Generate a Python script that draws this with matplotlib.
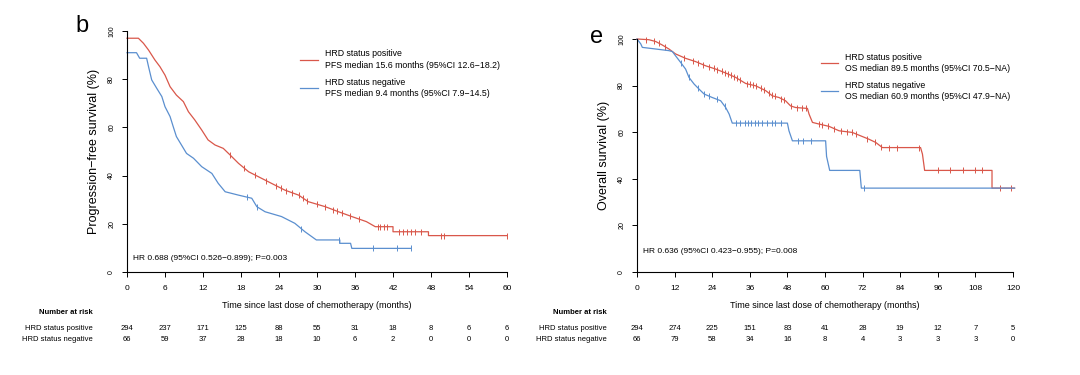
import numpy as np
import matplotlib
matplotlib.use("Agg")
import matplotlib.pyplot as plt

plt.rcParams['font.family'] = ['Liberation Sans', 'DejaVu Sans']

RED = '#d9574a'
BLUE = '#5b8fcf'

# ---- panel b: progression-free survival (curve vertices) ----
pfs_pos_t = [0, 1.8, 2.6, 3.4, 4.4, 5.2, 6.0, 6.8, 7.8, 8.9, 9.7, 10.7, 11.8, 12.8, 13.9,
             15.2, 16.3, 17.6, 19.2, 20.7, 22.8, 24.9, 27.1, 28.6, 31.3, 33.4, 35.5, 37.8,
             39.2, 42.0, 42.0, 47.6, 47.6, 60]
pfs_pos_s = [97.0, 97.0, 94.9, 92.1, 88.0, 85.2, 81.7, 76.9, 73.4, 70.7, 66.5, 63.1, 58.9,
             54.8, 52.7, 51.3, 48.5, 45.1, 41.6, 39.6, 36.8, 34.0, 31.9, 29.2, 27.1, 25.0,
             23.0, 20.9, 18.8, 18.8, 16.7, 16.7, 15.1, 15.1]
pfs_pos_cens = [16.2, 18.5, 20.2, 22.0, 23.5, 24.3, 25.1, 26.0, 27.1, 27.8, 28.4, 30.0, 31.2,
                32.6, 33.1, 34.0, 35.2, 36.6, 39.6, 40.0, 40.5, 41.0, 42.9, 43.6, 44.2, 44.9,
                45.5, 46.4, 49.6, 50.0, 60]

pfs_neg_t = [0, 1.5, 2.0, 3.1, 3.4, 3.9, 4.7, 5.5, 6.0, 6.8, 7.3, 7.8, 8.6, 9.4, 10.5, 11.8,
             13.4, 14.4, 15.5, 17.6, 19.7, 20.5, 21.8, 24.4, 26.5, 28.1, 29.9, 33.6, 33.6,
             35.3, 35.5, 44.8]
pfs_neg_s = [91.0, 91.0, 88.7, 88.7, 85.2, 79.7, 76.2, 72.8, 68.6, 64.5, 60.3, 56.2, 52.7,
             49.2, 47.2, 43.7, 40.9, 36.8, 33.3, 31.9, 30.6, 27.1, 25.0, 23.0, 20.2, 16.7,
             13.3, 13.3, 11.9, 11.9, 9.8, 9.8]
pfs_neg_cens = [19.0, 20.6, 27.5, 33.4, 38.8, 42.6, 44.8]

pfs_ticks = np.arange(0, 61, 6)
pfs_risk_pos = [294, 237, 171, 125, 88, 55, 31, 18, 8, 6, 6]
pfs_risk_neg = [66, 59, 37, 28, 18, 10, 6, 2, 0, 0, 0]

# ---- panel e: overall survival ----
os_pos_t = [0, 3.8, 6.0, 8.1, 10.2, 12.3, 15.5, 18.7, 21.9, 25.1, 28.3, 31.5, 34.7, 37.9,
            41.1, 43.2, 45.3, 47.4, 49.0, 50.6, 54.4, 54.9, 56.0, 58.1, 61.3, 64.5, 68.7,
            70.9, 74.0, 76.2, 78.3, 90.5, 91.1, 91.8, 113.3, 113.3, 120.5]
os_pos_s = [100, 99.7, 98.9, 97.4, 95.7, 93.6, 91.7, 90.3, 88.5, 87.1, 85.4, 83.5, 80.9,
            79.9, 77.8, 75.6, 74.9, 73.5, 71.3, 70.6, 70.2, 67.8, 64.2, 63.5, 62.5, 60.6,
            59.9, 58.7, 57.0, 55.6, 53.4, 53.4, 50.6, 43.6, 43.6, 36.0, 36.0]
os_pos_cens = [3, 5.5, 7, 9, 15, 18, 19.5, 21, 23, 24.5, 25.5, 27, 28, 29, 30, 31, 32, 33,
               35, 36, 37, 38, 39.5, 40.5, 42, 43, 44, 46, 47, 49, 51, 52.5, 54, 58, 59,
               61, 63, 65, 67, 68.5, 70, 73.5, 76, 78, 80.5, 83, 90, 96, 100, 104, 108,
               110, 116, 119.5]

os_neg_t = [0, 1.2, 1.7, 6.0, 10.2, 11.3, 12.3, 13.9, 15.5, 16.6, 18.2, 19.8, 21.4, 24.0,
            26.7, 28.3, 29.4, 30.4, 48.0, 48.5, 49.6, 60.2, 60.5, 61.5, 71.1, 71.6, 120.5]
os_neg_s = [100, 97.9, 96.4, 95.7, 95.0, 94.6, 92.8, 90.0, 87.1, 83.5, 80.7, 78.5, 76.4,
            74.9, 73.5, 70.6, 67.8, 63.9, 63.9, 60.6, 56.3, 56.3, 49.6, 43.6, 43.6, 36.0,
            36.0]
os_neg_cens = [14.0, 16.5, 19.5, 21.5, 23.0, 25.5, 28.0, 31.5, 33, 34.5, 35.5, 36.5, 37.5,
               38.5, 40, 41.5, 43, 44, 46, 51.5, 53, 55.5, 72.5]

os_ticks = np.arange(0, 121, 12)
os_risk_pos = [294, 274, 225, 151, 83, 41, 28, 19, 12, 7, 5]
os_risk_neg = [66, 79, 58, 34, 16, 8, 4, 3, 3, 3, 0]

W, H = 1080, 375


def km(ax, t, s, cens, color):
    ax.plot(t, s, color=color, lw=0.9, clip_on=False)
    ax.plot(cens, np.interp(cens, t, s), ls='none', marker='|', ms=4.5, mew=0.7,
            color=color, clip_on=False)


def style(ax, ticks, xmax):
    ax.set_xlim(0, xmax)
    ax.set_ylim(0, 100)
    for sp in ['top', 'right']:
        ax.spines[sp].set_visible(False)
    for sp in ['left', 'bottom']:
        ax.spines[sp].set_linewidth(0.8)
    ax.set_xticks(ticks)
    ax.set_yticks(np.arange(0, 101, 20))
    ax.tick_params(axis='x', labelsize=6, length=3.5, width=0.7, pad=6)
    ax.tick_params(axis='y', labelsize=5, length=3.5, width=0.7, pad=5,
                   labelrotation=90)
    for lab in ax.get_yticklabels():
        lab.set_va('center')
    ax.set_xlabel('Time since last dose of chemotherapy (months)', fontsize=6.5,
                  labelpad=6.5)


def risk(ax, ticks, pos, neg, label_x):
    trans = matplotlib.transforms.blended_transform_factory(ax.transData, fig.transFigure)
    for x, a, b in zip(ticks, pos, neg):
        ax.text(x, 1 - 328 / H, str(a), transform=trans, ha='center', va='center', fontsize=5.5)
        ax.text(x, 1 - 339.5 / H, str(b), transform=trans, ha='center', va='center', fontsize=5.5)
    fig.text(label_x, 1 - 313 / H, 'Number at risk', ha='right', va='center',
             fontsize=5.5, fontweight='bold')
    fig.text(label_x, 1 - 328 / H, 'HRD status positive', ha='right', va='center',
             fontsize=5.5)
    fig.text(label_x, 1 - 339.5 / H, 'HRD status negative', ha='right', va='center',
             fontsize=5.5)


fig = plt.figure(figsize=(10.8, 3.75), dpi=100)

ax1 = fig.add_axes([127 / W, 1 - 272 / H, (507 - 127) / W, (272 - 31) / H])
ax2 = fig.add_axes([637 / W, 1 - 272 / H, (1013 - 637) / W, (272 - 39) / H])

km(ax1, pfs_pos_t, pfs_pos_s, pfs_pos_cens, RED)
km(ax1, pfs_neg_t, pfs_neg_s, pfs_neg_cens, BLUE)
style(ax1, pfs_ticks, 60)
ax1.set_ylabel('Progression\u2212free survival (%)', fontsize=9, labelpad=6)
ax1.text(0.015, 0.055, 'HR 0.688 (95%CI 0.526\u22120.899); P=0.003', transform=ax1.transAxes,
         fontsize=6, va='center')
risk(ax1, pfs_ticks, pfs_risk_pos, pfs_risk_neg, 93 / W)

km(ax2, os_pos_t, os_pos_s, os_pos_cens, RED)
km(ax2, os_neg_t, os_neg_s, os_neg_cens, BLUE)
style(ax2, os_ticks, 120)
ax2.set_ylabel('Overall survival (%)', fontsize=9, labelpad=6)
ax2.text(0.015, 0.09, 'HR 0.636 (95%CI 0.423\u22120.955); P=0.008', transform=ax2.transAxes,
         fontsize=6, va='center')
risk(ax2, os_ticks, os_risk_pos, os_risk_neg, 607 / W)


# legends drawn as line + text in figure coords
def legend(x0, x1, xt, entries):
    for ly, t1, t2, c in entries:
        fig.add_artist(plt.Line2D([x0 / W, x1 / W], [1 - ly / H, 1 - ly / H], color=c, lw=0.9))
        fig.text(xt / W, 1 - (ly - 5.5) / H, t1, fontsize=6.3, va='center')
        fig.text(xt / W, 1 - (ly + 6) / H, t2, fontsize=6.3, va='center')


legend(300, 318, 325, [
    (59.5, 'HRD status positive', 'PFS median 15.6 months (95%CI 12.6\u221218.2)', RED),
    (88, 'HRD status negative', 'PFS median 9.4 months (95%CI 7.9\u221214.5)', BLUE)])
legend(821, 838, 845, [
    (62.5, 'HRD status positive', 'OS median 89.5 months (95%CI 70.5\u2212NA)', RED),
    (90.5, 'HRD status negative', 'OS median 60.9 months (95%CI 47.9\u2212NA)', BLUE)])

fig.text(75 / W, 1 - 32 / H, 'b', fontsize=17, va='baseline', ha='left')
fig.text(590 / W, 1 - 43 / H, 'e', fontsize=17, va='baseline', ha='left')

fig.savefig('out.png', dpi=100)
